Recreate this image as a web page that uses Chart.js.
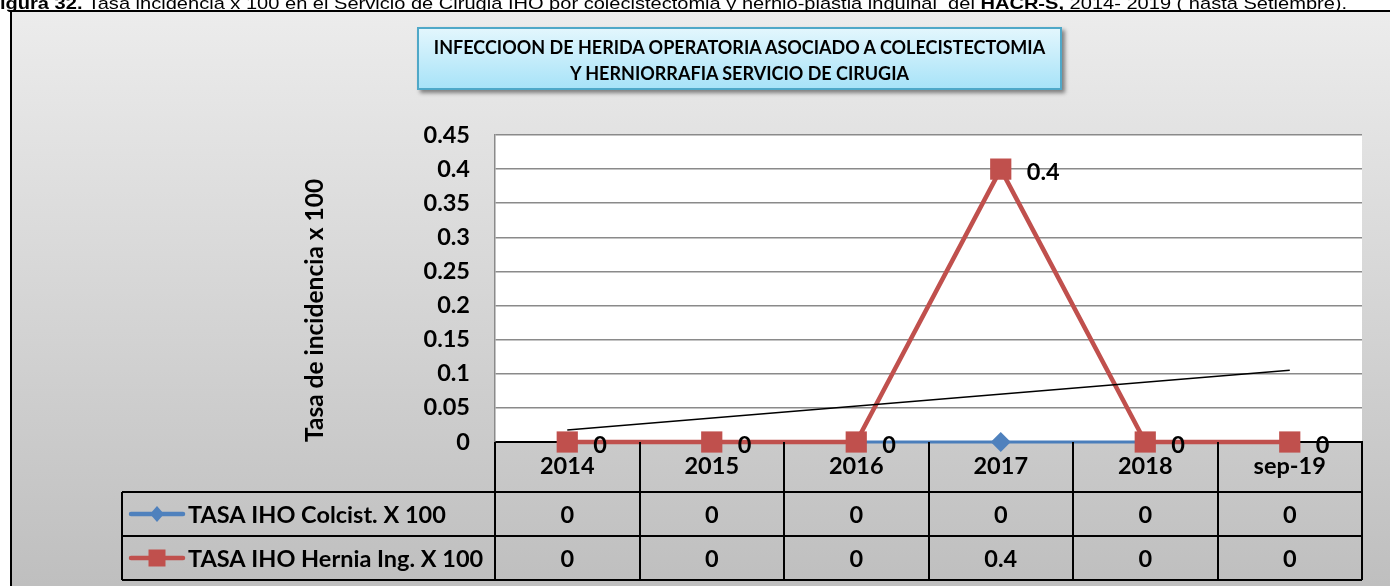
<!DOCTYPE html>
<html>
<head>
<meta charset="utf-8">
<script src="https://cdn.jsdelivr.net/npm/chart.js@4.4.1/dist/chart.umd.min.js"></script>
<style>
  html, body { margin: 0; padding: 0; }
  body { width: 1390px; height: 586px; overflow: hidden; position: relative; background: #fff; }
  #caption { position: absolute; left: 0; top: -5px; font: 17px/17px "Liberation Sans", Arial, sans-serif;
             white-space: pre; color: #000; transform-origin: 0 0; z-index: 3; }
  #frame { position: absolute; left: 10px; top: 10px; width: 1400px; height: 600px; box-sizing: border-box;
           border-left: 2.5px solid #000; border-top: 2px solid #000;
           background: linear-gradient(#ececec, #bdbdbd); }
  #chart { position: absolute; left: 0; top: 0; z-index: 1; }
  #titlebox { position: absolute; left: 417px; top: 27px; width: 645px; height: 63px; box-sizing: border-box;
              border: 2px solid #4fa8c8; background: linear-gradient(#e2f6fd, #a8e3f8);
              box-shadow: 3px 3px 4px rgba(0,0,0,.45); font: bold 18px/26px Lato, sans-serif;
              text-align: center; padding-top: 5px; z-index: 2; color: #000; }
</style>
</head>
<body>
<div id="caption"><b>igura 32.</b> Tasa incidencia x 100 en el Servicio de Cirugia IHO por colecistectomia y hernio-plastia inguinal  del <b>HACR-S,</b> 2014- 2019 ( hasta Setiembre).</div>
<div id="frame"></div>
<canvas id="chart" width="1390" height="586"></canvas>
<div id="titlebox">INFECCIOON DE HERIDA OPERATORIA ASOCIADO A COLECISTECTOMIA<br>Y HERNIORRAFIA SERVICIO DE CIRUGIA</div>
<script>
// Categories and series
const categories = ['2014', '2015', '2016', '2017', '2018', 'sep-19'];
const colcistRate = [0, 0, 0, 0, 0, 0];
const herniaRate = [0, 0, 0, 0.4, 0, 0];
const seriesNames = ['TASA IHO Colcist. X 100', 'TASA IHO Hernia Ing. X 100'];
// Linear trend line, drawn between its two end values
const trendStart = 0.0175;
const trendEnd = 0.105;
const yAxisTitle = 'Tasa de incidencia x 100';

// Fit the caption line to its width
const cap = document.getElementById('caption');
cap.style.transform = 'scaleX(' + (1347 / cap.scrollWidth) + ')';

const FONT = 'Lato, sans-serif';
const TXT = 23.5;
const BLUE = '#4f81bd';
const RED = '#c0504d';

const trendData = categories.map((_, i) => i === 0 ? trendStart : (i === categories.length - 1 ? trendEnd : null));

// White plot area behind grid and lines
const plotBackground = {
  id: 'plotBackground',
  beforeDraw(chart) {
    const { ctx, chartArea: a } = chart;
    ctx.save();
    ctx.fillStyle = '#fff';
    ctx.fillRect(a.left, a.top, a.right - a.left, a.bottom - a.top);
    ctx.restore();
  }
};

// Value labels to the right of each hernia marker
const valueLabels = {
  id: 'valueLabels',
  afterDatasetsDraw(chart) {
    const ctx = chart.ctx;
    const meta = chart.getDatasetMeta(1);
    ctx.save();
    ctx.font = 'bold ' + TXT + 'px ' + FONT;
    ctx.fillStyle = '#000';
    ctx.textAlign = 'left';
    ctx.textBaseline = 'middle';
    meta.data.forEach((pt, i) => {
      ctx.fillText(String(herniaRate[i]), pt.x + 26, pt.y + 3);
    });
    ctx.restore();
  }
};

// Data table under the x axis, with legend keys in the first column
const dataTable = {
  id: 'dataTable',
  afterDraw(chart) {
    const ctx = chart.ctx;
    const xs = chart.scales.x;
    const headTop = xs.top;
    const headBottom = xs.bottom;
    const rowH = 44;
    const legendLeft = 122;
    const rows = [
      { name: seriesNames[0], values: colcistRate, color: BLUE, marker: 'diamond' },
      { name: seriesNames[1], values: herniaRate, color: RED, marker: 'square' }
    ];
    const tableBottom = headBottom + rowH * rows.length;
    const n = categories.length;

    ctx.save();
    ctx.strokeStyle = '#000';
    ctx.lineWidth = 2;
    ctx.beginPath();
    // column boundaries
    for (let i = 0; i <= n; i++) {
      const bx = Math.round(xs.getPixelForValue(i - 0.5));
      ctx.moveTo(bx, headTop);
      ctx.lineTo(bx, tableBottom);
    }
    // legend column left edge
    ctx.moveTo(legendLeft, headBottom);
    ctx.lineTo(legendLeft, tableBottom);
    // row lines
    for (let r = 0; r <= rows.length; r++) {
      const ry = headBottom + rowH * r;
      ctx.moveTo(legendLeft, ry);
      ctx.lineTo(xs.right, ry);
    }
    ctx.stroke();

    ctx.font = 'bold ' + TXT + 'px ' + FONT;
    ctx.textBaseline = 'middle';
    rows.forEach((row, r) => {
      const cy = headBottom + rowH * r + rowH / 2;
      // values
      ctx.textAlign = 'center';
      ctx.fillStyle = '#000';
      row.values.forEach((v, i) => ctx.fillText(String(v), xs.getPixelForValue(i), cy + 1));
      // legend key
      ctx.strokeStyle = row.color;
      ctx.lineWidth = 4.5;
      ctx.lineCap = 'round';
      ctx.beginPath();
      ctx.moveTo(131, cy);
      ctx.lineTo(183, cy);
      ctx.stroke();
      ctx.fillStyle = row.color;
      ctx.beginPath();
      if (row.marker === 'diamond') {
        ctx.moveTo(157, cy - 8);
        ctx.lineTo(164, cy);
        ctx.lineTo(157, cy + 8);
        ctx.lineTo(150, cy);
        ctx.closePath();
      } else {
        ctx.rect(148.5, cy - 8.5, 17, 17);
      }
      ctx.fill();
      ctx.fillStyle = '#000';
      ctx.textAlign = 'left';
      ctx.fillText(row.name, 188, cy + 1);
    });
    ctx.restore();
  }
};

function draw() {
  new Chart(document.getElementById('chart'), {
    type: 'line',
    data: {
      labels: categories,
      datasets: [
        { label: seriesNames[0], data: colcistRate, borderColor: '#4a7ebb', borderWidth: 3,
          pointStyle: 'rectRot', pointRadius: 10, pointBorderWidth: 0,
          pointBackgroundColor: BLUE, tension: 0, order: 3, clip: false },
        { label: seriesNames[1], data: herniaRate, borderColor: RED, borderWidth: 4.5,
          pointStyle: 'rect', pointRadius: 15, pointBorderWidth: 0,
          pointBackgroundColor: RED, tension: 0, order: 2, clip: false },
        { label: 'Lineal', data: trendData, borderColor: '#000', borderWidth: 1.5,
          pointRadius: 0, spanGaps: true, tension: 0, order: 1 }
      ]
    },
    options: {
      responsive: false,
      animation: false,
      devicePixelRatio: 1,
      layout: { padding: { left: 290, top: 135, right: 28, bottom: 94 } },
      plugins: { legend: { display: false }, tooltip: { enabled: false }, title: { display: false } },
      scales: {
        x: {
          offset: true,
          grid: { display: false, drawTicks: false },
          border: { color: '#000', width: 2 },
          ticks: { font: { family: FONT, size: TXT, weight: 'bold' }, color: '#000', padding: 10,
                   maxRotation: 0, autoSkip: false },
          afterFit(s) { s.height = 50; }
        },
        y: {
          min: 0, max: 0.45,
          grid: { color: '#8a8a8a', lineWidth: 1.5, drawTicks: false },
          border: { color: '#8a8a8a', width: 1.5 },
          ticks: { stepSize: 0.05, font: { family: FONT, size: TXT, weight: 'bold' }, color: '#000',
                   padding: 25, callback: v => String(+v.toFixed(2)) },
          title: { display: true, text: yAxisTitle, align: 'start', color: '#000',
                   font: { family: FONT, size: 24.5, weight: 'bold' }, padding: { top: 10, bottom: 0 } },
          afterFit(s) { s.width = 205; }
        }
      }
    },
    plugins: [plotBackground, valueLabels, dataTable]
  });
}

document.fonts.load('bold 22px Lato').then(draw, draw);
</script>
</body>
</html>
